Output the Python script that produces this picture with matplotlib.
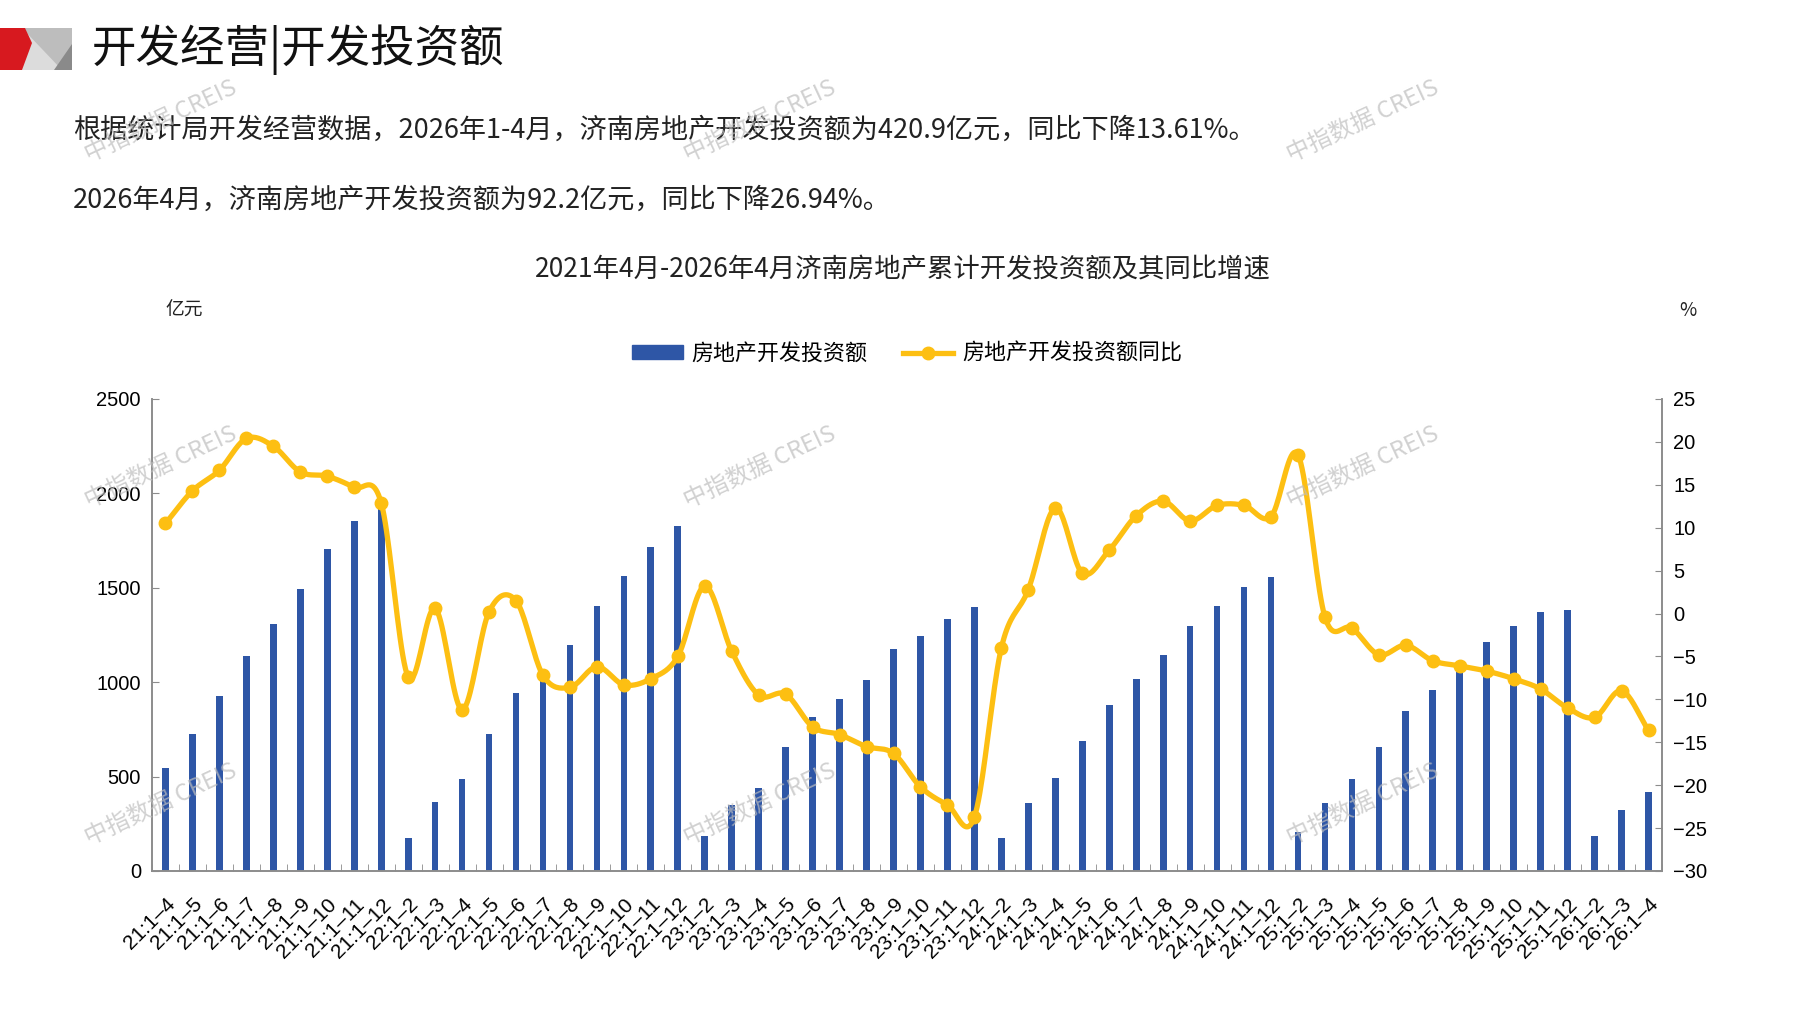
import numpy as np
import matplotlib
matplotlib.use("Agg")
import matplotlib.pyplot as plt
from matplotlib.patches import Polygon, Patch
from matplotlib.lines import Line2D

plt.rcParams['font.family'] = ['Noto Sans CJK SC', 'DejaVu Sans']

# ========================
# Data
# ========================
periods = (["21:1–%d" % m for m in range(4, 13)]
           + ["%d:1–%d" % (y, m) for y in (22, 23, 24, 25) for m in range(2, 13)]
           + ["26:1–2", "26:1–3", "26:1–4"])

invest = [546, 726, 929, 1141, 1309, 1493, 1703, 1855, 1940,
          177, 366, 486, 728, 942, 1030, 1196, 1401, 1562, 1714, 1829,
          184, 352, 442, 659, 816, 910, 1012, 1175, 1247, 1334, 1398,
          175, 359, 493, 691, 878, 1016, 1145, 1299, 1405, 1502, 1555,
          208, 359, 486, 655, 845, 958, 1075, 1214, 1299, 1371, 1385,
          184, 325, 420.9]

yoy = [10.5, 14.3, 16.7, 20.4, 19.5, 16.5, 16.0, 14.7, 12.9,
       -7.4, 0.6, -11.2, 0.2, 1.5, -7.2, -8.6, -6.2, -8.3, -7.6, -5.0,
       3.2, -4.4, -9.5, -9.4, -13.2, -14.1, -15.5, -16.3, -20.2, -22.3, -23.7,
       -4.0, 2.8, 12.3, 4.7, 7.4, 11.4, 13.1, 10.8, 12.6, 12.6, 11.3,
       18.5, -0.4, -1.7, -4.8, -3.7, -5.5, -6.1, -6.7, -7.6, -8.8, -11.0,
       -12.1, -9.0, -13.61]

header = "开发经营|开发投资额"
para1 = "根据统计局开发经营数据，2026年1-4月，济南房地产开发投资额为420.9亿元，同比下降13.61%。"
para2 = "2026年4月，济南房地产开发投资额为92.2亿元，同比下降26.94%。"
chart_title = "2021年4月-2026年4月济南房地产累计开发投资额及其同比增速"
bar_name = "房地产开发投资额"
line_name = "房地产开发投资额同比"

BLUE = '#2E56A6'
GOLD = '#FDBF12'
AXIS = '#8c8c8c'
LATIN = ['Liberation Sans', 'DejaVu Sans']


def smooth(xs, ys, steps=20):
    # catmull-rom, roughly like excel's smoothed line
    xs = np.asarray(xs, float)
    ys = np.asarray(ys, float)
    px = np.concatenate([[2 * xs[0] - xs[1]], xs, [2 * xs[-1] - xs[-2]]])
    py = np.concatenate([[2 * ys[0] - ys[1]], ys, [2 * ys[-1] - ys[-2]]])
    t = np.linspace(0, 1, steps, endpoint=False)
    ox, oy = [], []
    for i in range(1, len(px) - 2):
        for p, out in ((px, ox), (py, oy)):
            p0, p1, p2, p3 = p[i - 1], p[i], p[i + 1], p[i + 2]
            out.extend(0.5 * (2 * p1 + (-p0 + p2) * t
                              + (2 * p0 - 5 * p1 + 4 * p2 - p3) * t ** 2
                              + (-p0 + 3 * p1 - 3 * p2 + p3) * t ** 3))
    ox.append(xs[-1])
    oy.append(ys[-1])
    return np.array(ox), np.array(oy)


W, H = 1797, 1010
fig = plt.figure(figsize=(W / 100, H / 100), dpi=100)


def fx(px):
    return px / W


def fy(py):
    return 1 - py / H


# ========================
# Header logo + text
# ========================
logo = [
    ([(22, 28), (72, 28), (72, 70), (22, 70)], '#bdbdbd'),
    ([(22, 28), (62, 70), (22, 70)], '#dcdcdc'),
    ([(72, 44), (72, 70), (54, 70)], '#8a8a8a'),
    ([(0, 28), (25, 28), (32, 43), (22, 70), (0, 70)], '#d7191f'),
]
for pts, c in logo:
    fig.patches.append(Polygon([(fx(a), fy(b)) for a, b in pts], closed=True,
                               transform=fig.transFigure, color=c, lw=0))

fig.text(fx(92), fy(50), header, fontsize=32, va='center', ha='left', color='#111111')
fig.text(fx(73), fy(130), para1, fontsize=19.5, va='center', ha='left', color='#222222')
fig.text(fx(73), fy(200), para2, fontsize=19.5, va='center', ha='left', color='#222222')
fig.text(fx(903), fy(270), chart_title, fontsize=19, va='center', ha='center', color='#222222')
fig.text(fx(184), fy(310), "亿元", fontsize=13.5, va='center', ha='center', color='#222222')
fig.text(fx(1688), fy(310), "%", fontsize=13.5, va='center', ha='center', color='#222222')

# watermarks
for wx in (161, 760, 1363):
    for wy in (121, 467, 804):
        fig.text(fx(wx), fy(wy), "中指数据 CREIS", fontsize=17, rotation=25,
                 ha='center', va='center', color='#bdbdbd', alpha=0.7, zorder=10)

# ========================
# Chart
# ========================
ax = fig.add_axes([fx(152), fy(871), fx(1662) - fx(152), fy(399) - fy(871)])
x = np.arange(len(periods))
ax.bar(x, invest, width=0.25, color=BLUE, zorder=2)
ax.set_xlim(-0.5, len(periods) - 0.5)
ax.set_ylim(0, 2500)
ax.set_yticks(np.arange(0, 2501, 500))

ax2 = ax.twinx()
sx, sy = smooth(x, yoy)
ax2.plot(sx, sy, color=GOLD, lw=3.8, solid_capstyle='round', zorder=3)
ax2.plot(x, yoy, 'o', color=GOLD, ms=9, zorder=4)
ax2.set_ylim(-30, 25)
ax2.set_yticks(np.arange(-30, 26, 5))

ax.set_xticks(x)
ax.set_xticklabels(periods, rotation=45, ha='right', rotation_mode='anchor',
                   fontsize=15, family=LATIN)
ax.set_xticks(np.arange(len(periods) + 1) - 0.5, minor=True)
ax.tick_params(axis='x', which='major', length=0, pad=17)
ax.tick_params(axis='x', which='minor', length=5, direction='in', color=AXIS)
ax.tick_params(axis='y', length=5, direction='in', color=AXIS, labelsize=14.5, pad=8)
ax2.tick_params(axis='y', length=5, direction='in', color=AXIS, labelsize=14.5, pad=8)
for a in (ax, ax2):
    for lab in a.get_yticklabels():
        lab.set_family(LATIN)
    a.spines['top'].set_visible(False)
    for s in ('left', 'right', 'bottom'):
        a.spines[s].set_color(AXIS)
        a.spines[s].set_linewidth(1.2)

handles = [Patch(color=BLUE, label=bar_name),
           Line2D([], [], color=GOLD, lw=3.8, marker='o', ms=9, label=line_name)]
fig.legend(handles=handles, loc='center', bbox_to_anchor=(fx(907), fy(354)),
           ncol=2, frameon=False, fontsize=15.8, handlelength=2.3, handleheight=0.6,
           columnspacing=1.6, handletextpad=0.4)

fig.savefig("out.png", dpi=100, facecolor='white')
